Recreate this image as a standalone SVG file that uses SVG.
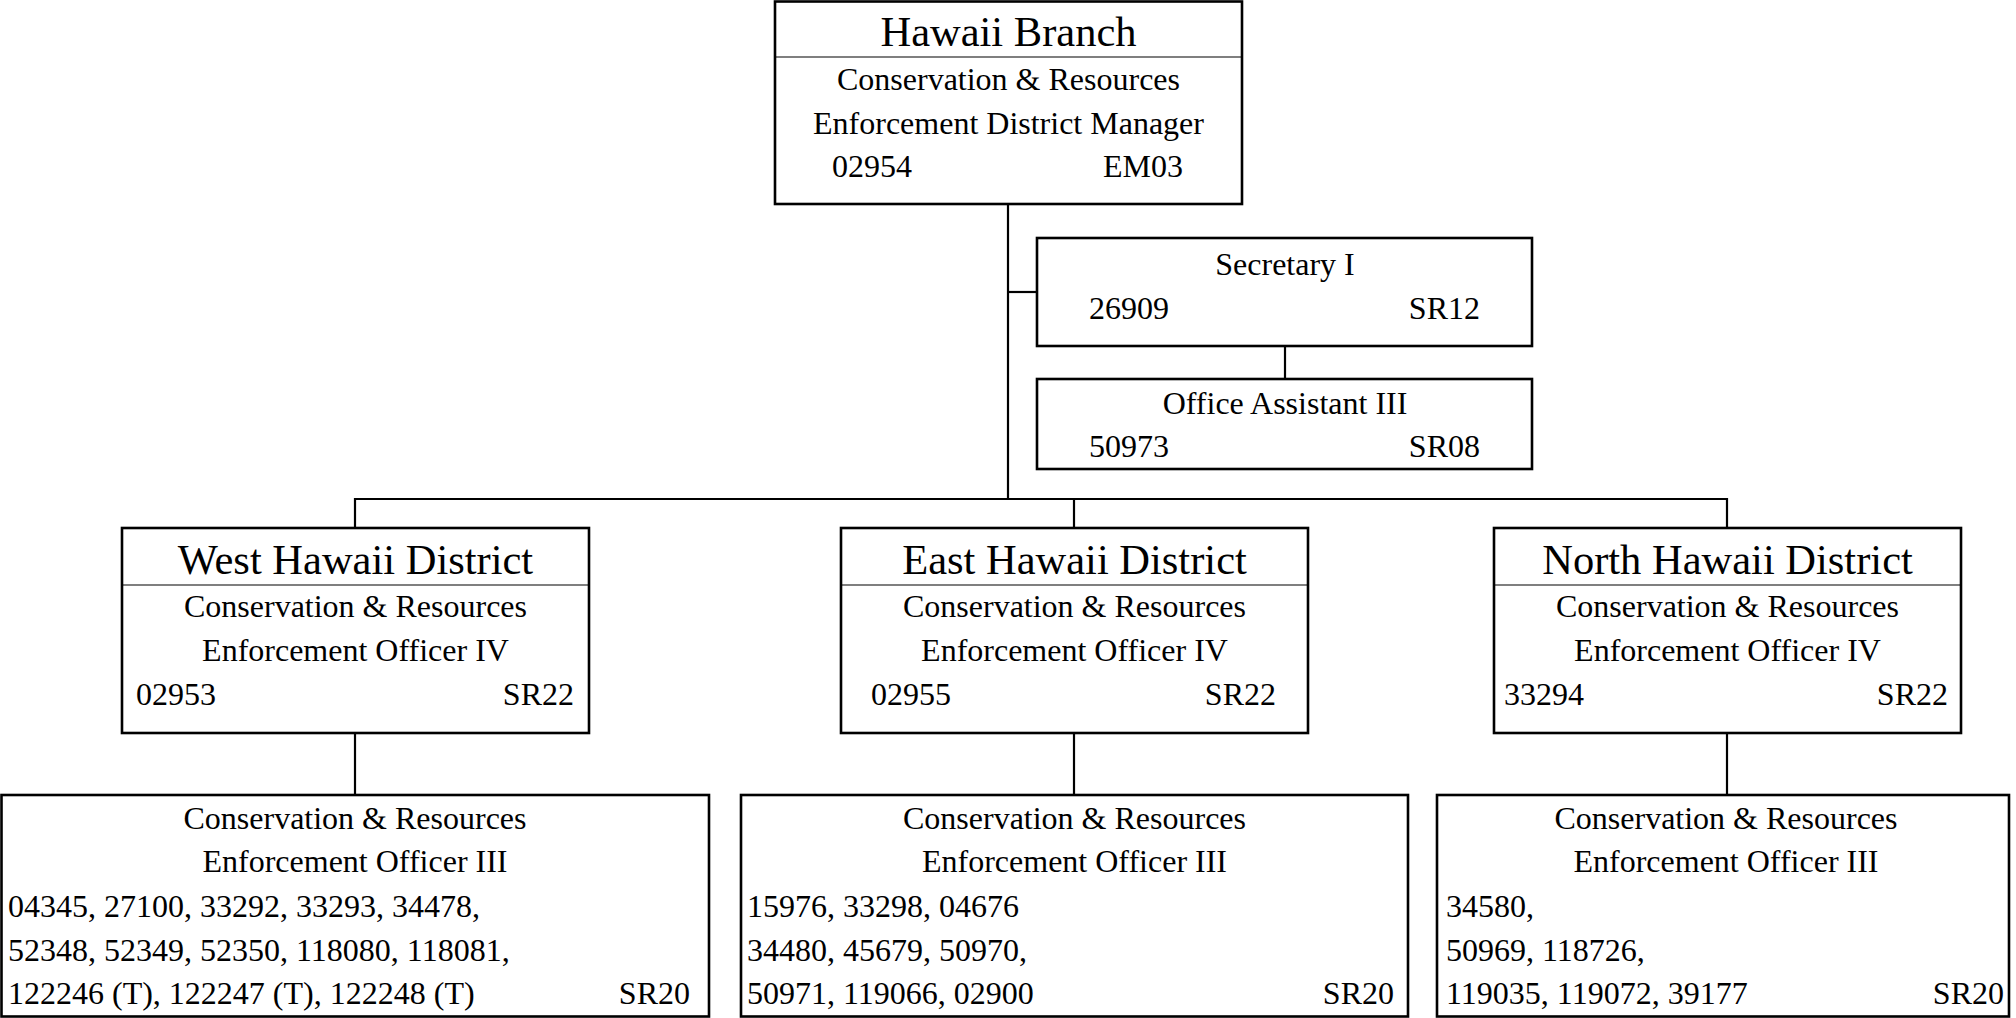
<svg xmlns="http://www.w3.org/2000/svg" width="2016" height="1018" viewBox="0 0 2016 1018">
  <style>
    .box { fill: #ffffff; stroke: #000000; stroke-width: 2.6; }
    .rule { stroke: #000000; stroke-width: 1.2; }
    .wire { fill: none; stroke: #000000; stroke-width: 2.2; }
    text { font-family: "Liberation Serif", "Times New Roman", serif; fill: #000000; font-size: 32px; }
    .title { font-size: 42.5px; }
    .c { text-anchor: middle; }
    .r { text-anchor: end; }
  </style>
  <rect width="2016" height="1018" fill="#ffffff"/>

  <!-- connectors -->
  <g id="connectors">
    <path class="wire" d="M1008,204 V499"/>
    <path class="wire" d="M1008,292 H1037"/>
    <path class="wire" d="M1285,346 V379"/>
    <path class="wire" d="M355,528 V499 H1727 V528"/>
    <path class="wire" d="M1074,499 V528"/>
    <path class="wire" d="M355,733 V795"/>
    <path class="wire" d="M1074,733 V795"/>
    <path class="wire" d="M1727,733 V795"/>
  </g>

  <!-- branch head -->
  <g id="hawaii-branch">
    <rect class="box" x="775" y="1.5" width="467" height="202.5"/>
    <line class="rule" x1="775" y1="57" x2="1242" y2="57"/>
    <text class="title c" x="1008.5" y="46">Hawaii Branch</text>
    <text class="c" x="1008.5" y="90">Conservation &amp; Resources</text>
    <text class="c" x="1008.5" y="134">Enforcement District Manager</text>
    <text x="832" y="177">02954</text>
    <text class="r" x="1183" y="177">EM03</text>
  </g>

  <!-- office support -->
  <g id="secretary">
    <rect class="box" x="1037" y="238" width="495" height="108"/>
    <text class="c" x="1285" y="275">Secretary I</text>
    <text x="1089" y="319">26909</text>
    <text class="r" x="1480" y="319">SR12</text>
  </g>
  <g id="office-assistant">
    <rect class="box" x="1037" y="379" width="495" height="90"/>
    <text class="c" x="1285" y="414">Office Assistant III</text>
    <text x="1089" y="457">50973</text>
    <text class="r" x="1480" y="457">SR08</text>
  </g>

  <!-- districts -->
  <g id="west-district">
    <rect class="box" x="122" y="528" width="467" height="205"/>
    <line class="rule" x1="122" y1="585" x2="589" y2="585"/>
    <text class="title c" x="355.5" y="574">West Hawaii District</text>
    <text class="c" x="355.5" y="617">Conservation &amp; Resources</text>
    <text class="c" x="355.5" y="661">Enforcement Officer IV</text>
    <text x="136" y="705">02953</text>
    <text class="r" x="574" y="705">SR22</text>
  </g>
  <g id="east-district">
    <rect class="box" x="841" y="528" width="467" height="205"/>
    <line class="rule" x1="841" y1="585" x2="1308" y2="585"/>
    <text class="title c" x="1074.5" y="574">East Hawaii District</text>
    <text class="c" x="1074.5" y="617">Conservation &amp; Resources</text>
    <text class="c" x="1074.5" y="661">Enforcement Officer IV</text>
    <text x="871" y="705">02955</text>
    <text class="r" x="1276" y="705">SR22</text>
  </g>
  <g id="north-district">
    <rect class="box" x="1494" y="528" width="467" height="205"/>
    <line class="rule" x1="1494" y1="585" x2="1961" y2="585"/>
    <text class="title c" x="1727.5" y="574">North Hawaii District</text>
    <text class="c" x="1727.5" y="617">Conservation &amp; Resources</text>
    <text class="c" x="1727.5" y="661">Enforcement Officer IV</text>
    <text x="1504" y="705">33294</text>
    <text class="r" x="1948" y="705">SR22</text>
  </g>

  <!-- officer pools -->
  <g id="west-officers">
    <rect class="box" x="1.5" y="795" width="707.5" height="221.5"/>
    <text class="c" x="355" y="829">Conservation &amp; Resources</text>
    <text class="c" x="355" y="872">Enforcement Officer III</text>
    <text x="8" y="917">04345, 27100, 33292, 33293, 34478,</text>
    <text x="8" y="961">52348, 52349, 52350, 118080, 118081,</text>
    <text x="8" y="1004">122246 (T), 122247 (T), 122248 (T)</text>
    <text class="r" x="690" y="1004">SR20</text>
  </g>
  <g id="east-officers">
    <rect class="box" x="741" y="795" width="667" height="221.5"/>
    <text class="c" x="1074.5" y="829">Conservation &amp; Resources</text>
    <text class="c" x="1074.5" y="872">Enforcement Officer III</text>
    <text x="747" y="917">15976, 33298, 04676</text>
    <text x="747" y="961">34480, 45679, 50970,</text>
    <text x="747" y="1004">50971, 119066, 02900</text>
    <text class="r" x="1394" y="1004">SR20</text>
  </g>
  <g id="north-officers">
    <rect class="box" x="1437" y="795" width="572" height="221.5"/>
    <text class="c" x="1726" y="829">Conservation &amp; Resources</text>
    <text class="c" x="1726" y="872">Enforcement Officer III</text>
    <text x="1446" y="917">34580,</text>
    <text x="1446" y="961">50969, 118726,</text>
    <text x="1446" y="1004">119035, 119072, 39177</text>
    <text class="r" x="2004" y="1004">SR20</text>
  </g>
</svg>
